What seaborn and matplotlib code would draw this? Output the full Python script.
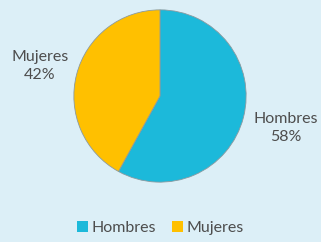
import matplotlib
matplotlib.use("Agg")
import matplotlib.pyplot as plt
import seaborn as sns
from matplotlib.patches import Patch

categories = ["Hombres", "Mujeres"]
values = [58, 42]
colors = ["#1CB9DA", "#FFC000"]
label_pos = [(286, 128), (40, 66)]  # pixel centres of the outside labels

sns.set_style("white")
plt.rcParams["font.family"] = ["Lato", "DejaVu Sans"]
bg = "#DCEFF7"
text_color = "#4d4d4d"

fig = plt.figure(figsize=(3.21, 2.42), dpi=100, facecolor=bg)
W, H = 321, 242
ax = fig.add_axes([73 / W, 1 - 183 / H, 174 / W, 174 / H])
ax.set_facecolor(bg)
ax.pie(values, colors=colors, startangle=90, counterclock=False,
       wedgeprops=dict(edgecolor="#8a9aa0", linewidth=0.6), radius=1)
ax.set_xlim(-1.01, 1.01)
ax.set_ylim(-1.01, 1.01)
ax.set_aspect("equal")

for cat, val, (px, py) in zip(categories, values, label_pos):
    fig.text(px / W, 1 - py / H, f"{cat}\n{val}%", ha="center", va="center",
             fontsize=11.5, color=text_color, linespacing=1.45)

handles = [Patch(facecolor=c, edgecolor="none") for c in colors]
fig.legend(handles, categories, loc="center", bbox_to_anchor=(0.5, 1 - 228 / H),
           ncol=2, frameon=False, fontsize=11.5, handlelength=0.7, handleheight=0.7,
           handletextpad=0.2, columnspacing=1.0, labelcolor=text_color)

fig.savefig("out.png", dpi=100, facecolor=bg)
